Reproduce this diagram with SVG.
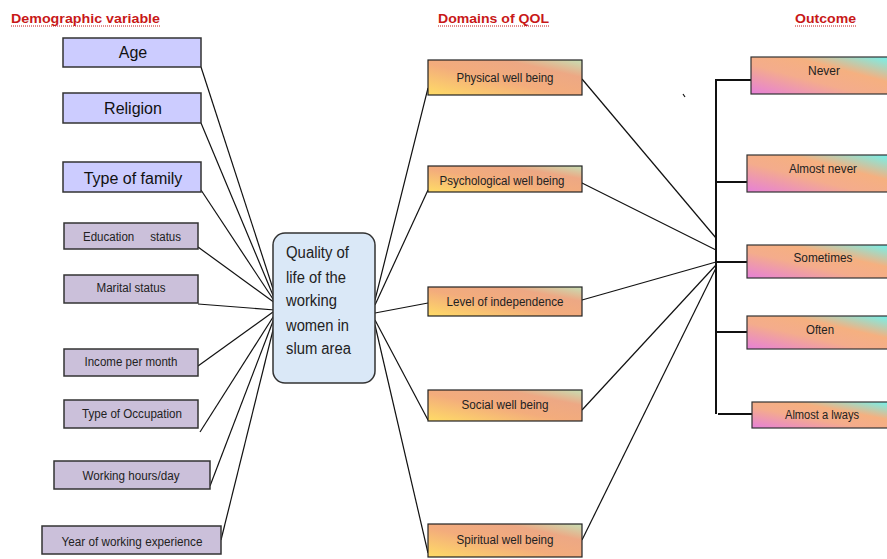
<svg xmlns="http://www.w3.org/2000/svg" width="887" height="559" viewBox="0 0 887 559">
<defs>
<linearGradient id="gDom" x1="0" y1="1" x2="1" y2="0">
<stop offset="0" stop-color="#ffdc66"/>
<stop offset="0.45" stop-color="#f3ac7c"/>
<stop offset="0.75" stop-color="#eda884"/>
<stop offset="1" stop-color="#c6dfb4"/>
</linearGradient>
<linearGradient id="gOut" x1="0" y1="1" x2="1" y2="0">
<stop offset="0" stop-color="#e680d8"/>
<stop offset="0.4" stop-color="#f4ac8c"/>
<stop offset="0.65" stop-color="#f5b080"/>
<stop offset="1" stop-color="#6ff4f0"/>
</linearGradient>
<style>
.hdr{font-family:"Liberation Sans",Arial,sans-serif;font-size:13px;font-weight:bold;fill:#c81818}
.ul{stroke:#c81818;stroke-width:1;stroke-dasharray:1 1}
.big{font-family:"Liberation Sans",Arial,sans-serif;font-size:16px;fill:#111;text-anchor:middle}
.sm{font-family:"Liberation Sans",Arial,sans-serif;font-size:12.5px;fill:#222;text-anchor:middle}
.ctr{font-family:"Liberation Sans",Arial,sans-serif;font-size:16px;fill:#222}
.b1{fill:#ccccff;stroke:#333;stroke-width:1.5}
.b2{fill:#cbc0da;stroke:#333;stroke-width:1.5}
.dom{fill:url(#gDom);stroke:#222;stroke-width:1.2}
.out{fill:url(#gOut);stroke:#333;stroke-width:1.2}
.ln{stroke:#111;stroke-width:1.2;fill:none}
.tk{stroke:#111;stroke-width:2;fill:none}
</style>
</defs>
<rect width="887" height="559" fill="#fff"/>

<g id="headers">
<text class="hdr" x="11" y="23" textLength="149" lengthAdjust="spacingAndGlyphs">Demographic variable</text>
<line class="ul" x1="11" y1="26" x2="160" y2="26"/>
<text class="hdr" x="438" y="23" textLength="111" lengthAdjust="spacingAndGlyphs">Domains of QOL</text>
<line class="ul" x1="438" y1="26" x2="549" y2="26"/>
<text class="hdr" x="795" y="23" textLength="61" lengthAdjust="spacingAndGlyphs">Outcome</text>
<line class="ul" x1="795" y1="26" x2="856" y2="26"/>
</g>

<g id="connectors">
<line class="ln" x1="201" y1="67" x2="276" y2="298"/>
<line class="ln" x1="201" y1="123" x2="275" y2="300"/>
<line class="ln" x1="201" y1="190" x2="275" y2="302"/>
<line class="ln" x1="198" y1="247" x2="275" y2="303"/>
<line class="ln" x1="198" y1="304" x2="275" y2="310"/>
<line class="ln" x1="198" y1="366" x2="273" y2="312"/>
<line class="ln" x1="200" y1="432" x2="275" y2="314"/>
<line class="ln" x1="210" y1="486" x2="275" y2="316"/>
<line class="ln" x1="221" y1="540" x2="276" y2="318"/>

<line class="ln" x1="428" y1="88" x2="375" y2="300"/>
<line class="ln" x1="428" y1="190" x2="375" y2="305"/>
<line class="ln" x1="428" y1="303" x2="375" y2="313"/>
<line class="ln" x1="428" y1="420" x2="375" y2="320"/>
<line class="ln" x1="428" y1="553" x2="375" y2="325"/>

<line class="ln" x1="582" y1="79" x2="716" y2="238"/>
<line class="ln" x1="580" y1="182" x2="716" y2="250"/>
<line class="ln" x1="582" y1="300" x2="716" y2="262"/>
<line class="ln" x1="582" y1="410" x2="716" y2="265"/>
<line class="ln" x1="582" y1="540" x2="716" y2="268"/>

<line class="tk" x1="716" y1="79" x2="716" y2="414"/>
<line class="tk" x1="715" y1="80" x2="751" y2="80"/>
<line class="tk" x1="715" y1="182" x2="750" y2="182"/>
<line class="tk" x1="715" y1="262" x2="749" y2="262"/>
<line class="tk" x1="715" y1="332" x2="749" y2="332"/>
<line class="tk" x1="718" y1="414" x2="754" y2="414"/>
<line class="ln" x1="683" y1="94" x2="685" y2="97"/>
</g>

<g id="age"><rect class="b1" x="63" y="38" width="138" height="29"/><text class="big" x="133" y="58">Age</text></g>
<g id="religion"><rect class="b1" x="63" y="93" width="138" height="30"/><text class="big" x="133" y="114">Religion</text></g>
<g id="family"><rect class="b1" x="63" y="162" width="138" height="30"/><text class="big" x="133" y="184">Type of family</text></g>
<g id="education"><rect class="b2" x="64" y="223" width="134" height="26"/><text class="sm" x="132" y="241" textLength="98" lengthAdjust="spacingAndGlyphs" xml:space="preserve">Education     status</text></g>
<g id="marital"><rect class="b2" x="64" y="275" width="134" height="28"/><text class="sm" x="131" y="292" textLength="69" lengthAdjust="spacingAndGlyphs">Marital status</text></g>
<g id="income"><rect class="b2" x="64" y="349" width="134" height="27"/><text class="sm" x="131" y="366" textLength="93" lengthAdjust="spacingAndGlyphs">Income per month</text></g>
<g id="occupation"><rect class="b2" x="64" y="400" width="134" height="28"/><text class="sm" x="132" y="418" textLength="100" lengthAdjust="spacingAndGlyphs">Type of Occupation</text></g>
<g id="hours"><rect class="b2" x="54" y="461" width="156" height="28"/><text class="sm" x="131" y="480" textLength="97" lengthAdjust="spacingAndGlyphs">Working hours/day</text></g>
<g id="experience"><rect class="b2" x="42" y="526" width="179" height="28"/><text class="sm" x="132" y="546" textLength="141" lengthAdjust="spacingAndGlyphs">Year of working experience</text></g>

<g id="qol">
<rect x="273" y="233" width="102" height="150" rx="12" fill="#dae8f7" stroke="#333" stroke-width="1.5"/>
<text class="ctr" x="286" y="258" textLength="63" lengthAdjust="spacingAndGlyphs">Quality of</text>
<text class="ctr" x="286" y="283" textLength="60" lengthAdjust="spacingAndGlyphs">life of the</text>
<text class="ctr" x="286" y="306" textLength="51" lengthAdjust="spacingAndGlyphs">working</text>
<text class="ctr" x="286" y="331" textLength="63" lengthAdjust="spacingAndGlyphs">women in</text>
<text class="ctr" x="286" y="354" textLength="65" lengthAdjust="spacingAndGlyphs">slum area</text>
</g>

<g id="physical"><rect class="dom" x="428" y="60" width="154" height="35"/><text class="sm" x="505" y="82" textLength="97" lengthAdjust="spacingAndGlyphs">Physical well being</text></g>
<g id="psychological"><rect class="dom" x="428" y="166" width="154" height="26"/><text class="sm" x="502" y="185" textLength="125" lengthAdjust="spacingAndGlyphs">Psychological well being</text></g>
<g id="independence"><rect class="dom" x="428" y="287" width="154" height="29"/><text class="sm" x="505" y="306" textLength="117" lengthAdjust="spacingAndGlyphs">Level of independence</text></g>
<g id="social"><rect class="dom" x="428" y="390" width="154" height="31"/><text class="sm" x="505" y="409" textLength="87" lengthAdjust="spacingAndGlyphs">Social well being</text></g>
<g id="spiritual"><rect class="dom" x="428" y="524" width="154" height="33" stroke-width="3"/><text class="sm" x="505" y="544" textLength="97" lengthAdjust="spacingAndGlyphs">Spiritual well being</text></g>

<g id="never"><rect class="out" x="751" y="57" width="140" height="37"/><text class="sm" x="824" y="75" textLength="32" lengthAdjust="spacingAndGlyphs">Never</text></g>
<g id="almostnever"><rect class="out" x="747" y="155" width="144" height="37"/><text class="sm" x="823" y="173" textLength="68" lengthAdjust="spacingAndGlyphs">Almost never</text></g>
<g id="sometimes"><rect class="out" x="747" y="245" width="144" height="33"/><text class="sm" x="823" y="262" textLength="59" lengthAdjust="spacingAndGlyphs">Sometimes</text></g>
<g id="often"><rect class="out" x="747" y="316" width="144" height="33"/><text class="sm" x="820" y="334" textLength="28" lengthAdjust="spacingAndGlyphs">Often</text></g>
<g id="almostalways"><rect class="out" x="752" y="402" width="139" height="26"/><text class="sm" x="822" y="419" textLength="74" lengthAdjust="spacingAndGlyphs" xml:space="preserve">Almost a lways</text></g>
</svg>
